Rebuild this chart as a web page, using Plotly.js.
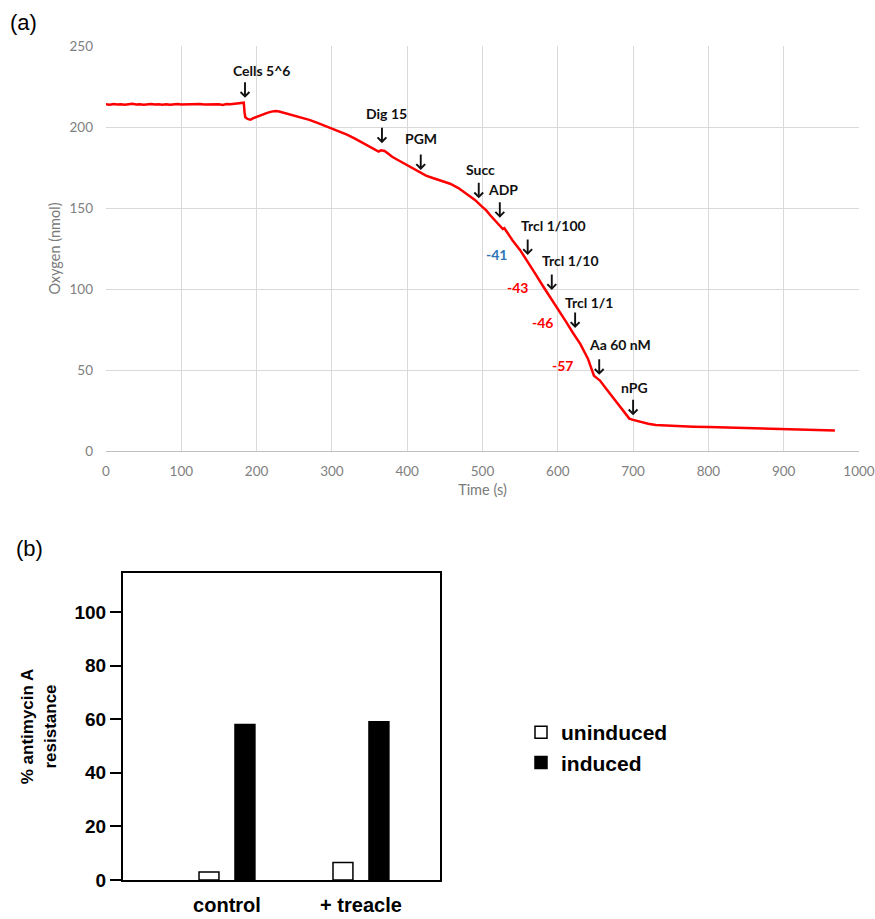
<!DOCTYPE html>
<html>
<head>
<meta charset="utf-8">
<script src="https://cdn.plot.ly/plotly-3.0.1.min.js"></script>
<style>html,body{margin:0;padding:0;background:#fff;}#chart{width:875px;height:919px;}</style>
</head>
<body>
<div id="chart"></div>
<script>
// ---- Panel (a): oxygen trace ----
var timeS = [0,5,10,15,20,25,30,35,40,45,50,55,60,65,70,75,80,85,90,95,100,105,110,115,120,125,130,135,140,145,150,155,160,165,170,175,180,183,
  184,185,188,192,195,200,205,210,215,220,225,230,235,240,250,260,270,280,290,300,310,320,330,340,350,358,362,365,370,375,380,390,400,
  410,417,425,434,445,457,468,479,490,499,505,510,515,520,525,527,529,531,540,550,560,570,580,590,600,610,620,630,640,645,648,652,656,
  665,675,685,695,700,710,720,730,745,760,780,800,825,850,875,900,925,950,968];
var oxygen = [214.0,213.8,214.2,213.9,214.1,213.7,214.0,214.3,213.9,214.1,213.8,214.0,214.2,213.9,214.1,213.8,214.0,213.7,214.0,214.2,213.9,214.0,214.1,213.8,214.0,214.2,213.9,214.0,214.1,213.8,214.0,213.6,214.2,214.0,214.3,214.4,214.6,215.0,
  209.0,206.0,205.0,204.5,205.3,206.3,207.3,208.2,208.9,209.5,209.8,209.6,209.0,208.3,207.2,205.9,204.4,202.7,200.9,199.2,197.3,195.3,193.0,190.6,188.2,186.0,184.8,185.6,185.2,183.5,181.6,179.0,176.5,
  174.0,171.8,170.0,168.5,166.8,165.0,162.3,158.8,155.0,151.0,148.5,145.7,143.0,140.5,138.0,137.0,137.5,136.0,130.0,124.0,117.0,109.5,102.0,95.0,87.5,80.5,73.0,66.0,57.0,51.0,46.5,45.0,43.5,
  38.0,32.0,25.5,20.0,19.2,17.8,16.8,16.0,15.6,15.3,15.0,14.8,14.5,14.2,13.9,13.6,13.3,13.0,12.7];

// event labels, arrow tips (time, oxygen) and label anchors
var eventLabels = ['Cells 5^6','Dig 15','PGM','Succ','ADP','Trcl 1/100','Trcl 1/10','Trcl 1/1','Aa 60 nM','nPG'];
var eventTipT   = [184.6, 366.5, 418, 495, 523, 560, 592, 623, 655, 700];
var eventTipO   = [218, 190, 173.5, 156, 144, 121, 99.4, 76, 47, 22];
var eventTextT  = [206, 373, 418, 498, 527, 594, 617.5, 641.4, 682.6, 702.5];
var eventTextO  = [234.6, 208.6, 192.6, 174, 161.7, 139.5, 117.3, 91.4, 66, 39.5];

var rateLabels = ['-41','-43','-46','-57'];
var rateT = [519, 547, 580, 605.6];
var rateO = [121, 101, 79.6, 52.5];
var rateColors = ['#2E75B6','#FF0000','#FF0000','#FF0000'];

// ---- Panel (b): bar chart ----
var groups = ['control', '+ treacle'];
var uninduced = [3, 6.5];
var induced = [58, 59];

var W = 875, H = 919;
function px(v){return v/W;}
function py(v){return 1 - v/H;}

var traces = [
  {type:'scatter', mode:'lines', x: timeS, y: oxygen, xaxis:'x', yaxis:'y',
   line:{color:'#FF0000', width:2.5}, showlegend:false, hoverinfo:'x+y'},
  {type:'bar', name:'uninduced', x: groups, y: uninduced, xaxis:'x2', yaxis:'y2',
   marker:{color:'#FFFFFF', line:{color:'#000000', width:1.5}}},
  {type:'bar', name:'induced', x: groups, y: induced, xaxis:'x2', yaxis:'y2',
   marker:{color:'#000000', line:{color:'#000000', width:1.5}}}
];

var annFontA = {family:'Lato, "Open Sans", sans-serif', size:14, color:'#111111', weight:'bold'};
var annotations = [];
for (var i=0;i<eventLabels.length;i++){
  annotations.push({xref:'x', yref:'y', x:eventTipT[i], y:eventTipO[i], text:'', showarrow:true,
    ax:0, ay:-17, arrowhead:4, arrowsize:0.9, arrowwidth:1.9, arrowcolor:'#111111'});
  annotations.push({xref:'x', yref:'y', x:eventTextT[i], y:eventTextO[i], text:eventLabels[i],
    showarrow:false, font:annFontA, xanchor:'center', yanchor:'middle'});
}
for (var j=0;j<rateLabels.length;j++){
  annotations.push({xref:'x', yref:'y', x:rateT[j], y:rateO[j], text:rateLabels[j], showarrow:false,
    font:{family:'Lato, "Open Sans", sans-serif', size:14, color:rateColors[j], weight:'bold'},
    xanchor:'center', yanchor:'middle'});
}
annotations.push({xref:'paper', yref:'paper', x:px(8), y:py(22), text:'(a)', showarrow:false,
  xanchor:'left', yanchor:'middle', font:{family:'"Liberation Sans", Arial, sans-serif', size:22, color:'#000'}});
annotations.push({xref:'paper', yref:'paper', x:px(14), y:py(548), text:'(b)', showarrow:false,
  xanchor:'left', yanchor:'middle', font:{family:'"Liberation Sans", Arial, sans-serif', size:22, color:'#000'}});

var grayFont = {family:'Lato, "Open Sans", sans-serif', size:13.5, color:'#808080'};
var grayTitle = {family:'Lato, "Open Sans", sans-serif', size:14.5, color:'#7A7A7A'};
var boldBase = '"Liberation Sans", Arial, sans-serif';

var layout = {
  width: W, height: H,
  margin:{l:0, r:0, t:0, b:0},
  paper_bgcolor:'#FFFFFF', plot_bgcolor:'rgba(0,0,0,0)',
  showlegend:true,
  barmode:'group', bargap:0.463, bargroupgap:0.446,
  xaxis:{domain:[px(106), px(859)], anchor:'y', range:[0,1000], dtick:100, tick0:0,
    showgrid:true, gridcolor:'#D9D9D9', gridwidth:1, zeroline:false,
    showline:true, linecolor:'#BFBFBF', linewidth:1, ticks:'', ticklabelstandoff:8,
    tickfont:grayFont, title:{text:'Time (s)', font:grayTitle, standoff:6}},
  yaxis:{domain:[py(451), py(46)], anchor:'x', range:[0,250], dtick:50, tick0:0,
    showgrid:true, gridcolor:'#D9D9D9', gridwidth:1, zeroline:false, showline:false,
    ticks:'', ticklabelstandoff:12, tickfont:grayFont,
    title:{text:'Oxygen (nmol)', font:grayTitle, standoff:5}},
  xaxis2:{domain:[px(123), px(440)], anchor:'y2', type:'category', range:[-0.776, 1.59],
    showgrid:false, zeroline:false, showline:true, mirror:true, linecolor:'#000', linewidth:2,
    ticks:'', ticklabelstandoff:6, tickfont:{family:boldBase, size:20, color:'#000', weight:'bold'}},
  yaxis2:{domain:[py(880), py(573)], anchor:'x2', range:[0, 114.5], dtick:20, tick0:0,
    showgrid:false, zeroline:false, showline:true, mirror:true, linecolor:'#000', linewidth:2,
    ticks:'outside', ticklen:11, tickwidth:2, tickcolor:'#000',
    tickfont:{family:boldBase, size:19, color:'#000', weight:'bold'},
    title:{text:'% antimycin A<br>resistance', font:{family:boldBase, size:17, color:'#000', weight:'bold'}, standoff:14}},
  legend:{x:px(521), y:py(712), xanchor:'left', yanchor:'top', bgcolor:'rgba(0,0,0,0)',
    font:{family:boldBase, size:21, color:'#000', weight:'bold'}, itemwidth:30},
  annotations: annotations
};

Plotly.newPlot('chart', traces, layout, {displayModeBar:false, staticPlot:true});
</script>
</body>
</html>
